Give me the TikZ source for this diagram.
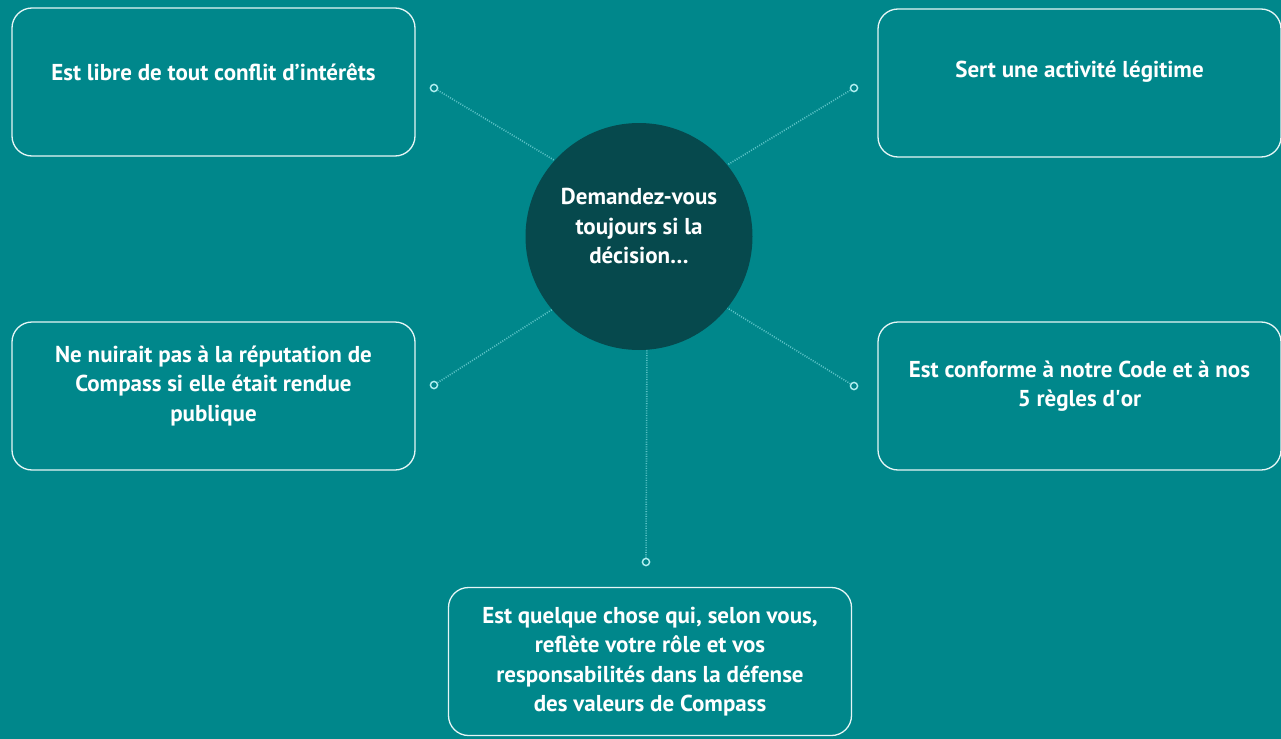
\documentclass[tikz,border=0pt]{standalone}
\usepackage{fontspec}
\setmainfont{PT Sans}
\definecolor{teal}{HTML}{00878B}
\definecolor{hubdark}{HTML}{06494D}
\definecolor{spoke}{HTML}{5CC3C7}
\definecolor{ring}{HTML}{B5F0F2}
\definecolor{edge}{HTML}{E6F6F6}
\begin{document}
\begin{tikzpicture}[x=0.5pt,y=-0.5pt,
    card/.style={draw=edge,line width=0.65pt,rounded corners=10pt,minimum width=201.5pt,minimum height=74pt},
    txt/.style={text=white,font=\bfseries\fontsize{11.5}{14.75}\selectfont,align=center},
    hub/.style={circle,fill=hubdark,minimum size=113.5pt,inner sep=0pt},
    spokeline/.style={spoke,line width=0.8pt,dash pattern=on 0.5pt off 0.7pt},
    pin/.style={circle,draw=ring,fill=teal,line width=0.7pt,minimum size=3.6pt,inner sep=0pt}]
                \fill [teal] (0,0) rectangle (1281,739);
                \useasboundingbox (0,0) rectangle (1281,739);

                \node[hub] (hub) at (639,236.5) {};
                \node[txt] at (639,226) {Demandez-vous\\toujours si la\\décision…};

                \node[card,label={[txt,yshift=5pt]center:Est libre de tout conflit d’intérêts}] (libre) at (213.5,82) {};
                \node[card,label={[txt,yshift=5.5pt]center:Sert une activité légitime}] (sert) at (1079.5,83) {};
                \node[card,label={[txt,yshift=5pt]center:Ne nuirait pas à la réputation de\\Compass si elle était rendue\\publique}] (nuire) at (213.5,396) {};
                \node[card,label={[txt,yshift=5pt]center:Est conforme à notre Code et à nos\\5 règles d\textquotesingle or}] (code) at (1079.5,396) {};
                \node[card,label={[txt]center:Est quelque chose qui, selon vous,\\reflète votre rôle et vos\\responsabilités dans la défense\\des valeurs de Compass}] (role) at (650,661.5) {};

                \node[pin] (plibre) at (434,88) {};
                \node[pin] (psert) at (854,88) {};
                \node[pin] (pnuire) at (434,385) {};
                \node[pin] (pcode) at (854,386) {};
                \node[pin] (prole) at (646,562) {};

                \draw[spokeline] (plibre) -- (hub.138);
                \draw[spokeline] (psert) -- (hub.39);
                \draw[spokeline] (pnuire) -- (hub.220);
                \draw[spokeline] (pcode) -- (hub.321);
                \draw[spokeline] (prole) -- (hub.-86.5);
            \end{tikzpicture}
\end{document}
